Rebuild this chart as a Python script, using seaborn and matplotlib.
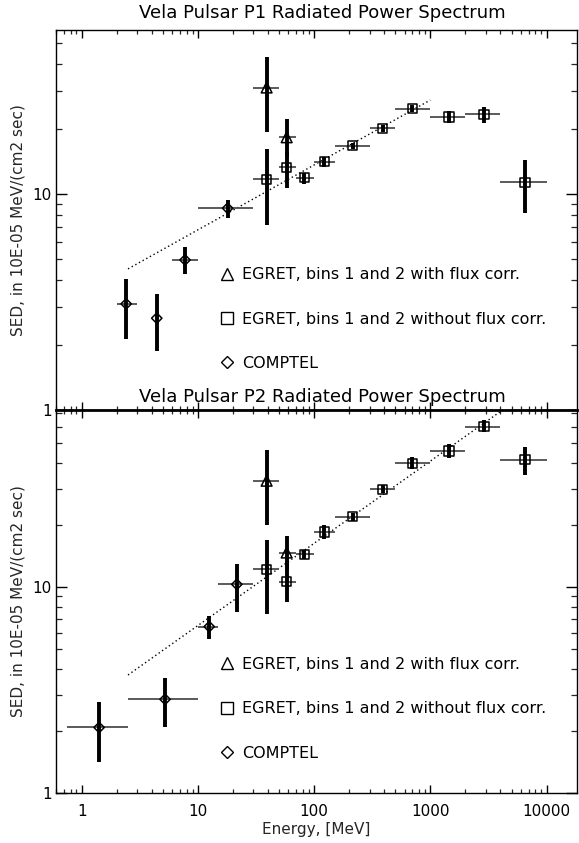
import numpy as np
import pandas as pd
import matplotlib
matplotlib.use("Agg")
import matplotlib.pyplot as plt
import seaborn as sns
from matplotlib.lines import Line2D
from matplotlib.ticker import LogLocator, FuncFormatter, NullFormatter

# ---------------- data: P1 ----------------
p1_tri_E = [39.0, 58.0]
p1_tri_Elo = [30.0, 50.0]
p1_tri_Ehi = [50.0, 70.0]
p1_tri_S = [31.1, 18.3]
p1_tri_Slo = [19.4, 14.9]
p1_tri_Shi = [43.0, 22.2]

p1_sq_E = [39.0, 58.0, 82.0, 122.0, 215.0, 389.0, 700.0, 1450.0, 2900.0, 6530.0]
p1_sq_Elo = [30.0, 50.0, 70.0, 100.0, 150.0, 300.0, 500.0, 1000.0, 2000.0, 4000.0]
p1_sq_Ehi = [50.0, 70.0, 100.0, 150.0, 300.0, 500.0, 1000.0, 2000.0, 4000.0, 10000.0]
p1_sq_S = [11.7, 13.3, 11.9, 14.1, 16.7, 20.1, 24.8, 22.7, 23.4, 11.3]
p1_sq_Slo = [7.2, 10.6, 11.1, 13.3, 16.2, 19.4, 23.9, 21.3, 21.4, 8.2]
p1_sq_Shi = [16.1, 15.7, 12.5, 14.9, 17.2, 20.9, 25.8, 24.2, 25.2, 14.4]

p1_di_E = [2.41, 4.42, 7.74, 18.0]
p1_di_Elo = [2.0, 4.25, 6.0, 10.0]
p1_di_Ehi = [3.0, 4.6, 10.0, 30.0]
p1_di_S = [3.1, 2.66, 4.95, 8.59]
p1_di_Slo = [2.13, 1.88, 4.25, 7.7]
p1_di_Shi = [4.03, 3.43, 5.66, 9.38]

p1_fit_E = [2.5, 1000.0]
p1_fit_S = [4.5, 27.2]

# ---------------- data: P2 ----------------
p2_tri_E = [39.0, 58.0]
p2_tri_Elo = [30.0, 50.0]
p2_tri_Ehi = [50.0, 70.0]
p2_tri_S = [32.8, 14.7]
p2_tri_Slo = [20.0, 12.1]
p2_tri_Shi = [46.2, 17.7]

p2_sq_E = [39.0, 58.0, 82.0, 122.0, 215.0, 389.0, 700.0, 1450.0, 2900.0, 6530.0]
p2_sq_Elo = [30.0, 50.0, 70.0, 100.0, 150.0, 300.0, 500.0, 1000.0, 2000.0, 4000.0]
p2_sq_Ehi = [50.0, 70.0, 100.0, 150.0, 300.0, 500.0, 1000.0, 2000.0, 4000.0, 10000.0]
p2_sq_S = [12.2, 10.6, 14.4, 18.5, 21.9, 29.8, 39.9, 45.7, 60.0, 41.4]
p2_sq_Slo = [7.4, 8.5, 13.7, 17.1, 21.0, 28.5, 37.3, 42.2, 56.4, 35.0]
p2_sq_Shi = [16.9, 13.3, 15.2, 20.0, 22.8, 31.2, 42.6, 49.3, 64.3, 48.0]

p2_di_E = [1.41, 5.21, 12.5, 21.6]
p2_di_Elo = [0.75, 2.5, 10.0, 15.0]
p2_di_Ehi = [2.5, 10.0, 15.0, 30.0]
p2_di_S = [2.08, 2.85, 6.42, 10.3]
p2_di_Slo = [1.42, 2.08, 5.57, 7.6]
p2_di_Shi = [2.76, 3.6, 7.26, 13.0]

p2_fit_E = [2.5, 4000.0]
p2_fit_S = [3.74, 71.0]

legend_labels = ["EGRET, bins 1 and 2 with flux corr.",
                 "EGRET, bins 1 and 2 without flux corr.",
                 "COMPTEL"]
titles = ["Vela Pulsar P1 Radiated Power Spectrum",
          "Vela Pulsar P2 Radiated Power Spectrum"]
ylabel = "SED, in 10E-05 MeV/(cm2 sec)"
xlabel = "Energy, [MeV]"

sns.set_theme(style="ticks")
plt.rcParams['font.family'] = ['DejaVu Sans']
plt.rcParams['text.color'] = 'black'

W, H = 579, 843
fig = plt.figure(figsize=(W / 100, H / 100), dpi=100)

ax1 = fig.add_axes([56 / W, 1 - 410 / H, 521 / W, 380 / H])
ax2 = fig.add_axes([56 / W, 1 - 793 / H, 521 / W, 383 / H])

FS_TICK = 11
FS_LEG = 11.5
FS_LAB = 11
FS_TITLE = 13


def series(ax, E, Elo, Ehi, S, Slo, Shi, marker, ms):
    E = np.array(E); S = np.array(S)
    xerr = [E - np.array(Elo), np.array(Ehi) - E]
    yerr = [S - np.array(Slo), np.array(Shi) - S]
    ax.errorbar(E, S, xerr=xerr, fmt='none', ecolor='#5a5a5a', elinewidth=1.4,
                capsize=0, zorder=2)
    ax.errorbar(E, S, yerr=yerr, fmt='none', ecolor='black', elinewidth=2.8,
                capsize=0, zorder=3)
    df = pd.DataFrame({"E": E, "S": S})
    sns.scatterplot(data=df, x="E", y="S", ax=ax, marker=marker, s=ms,
                    facecolor='none', edgecolor='black', linewidth=1.1, zorder=4)


def panel(ax, tri, sq, di, fit, ymax, leg_y):
    series(ax, *tri, marker='^', ms=60)
    series(ax, *sq, marker='s', ms=44)
    series(ax, *di, marker='D', ms=28)
    fdf = pd.DataFrame({"E": fit[0], "S": fit[1]})
    sns.lineplot(data=fdf, x="E", y="S", ax=ax, color='black', lw=1.0,
                 linestyle=(0, (1, 2)), zorder=1)
    ax.set_xscale('log')
    ax.set_yscale('log')
    ax.set_xlim(0.6, 18300)
    ax.set_ylim(1, ymax)
    ax.set_xlabel('')
    for s in ax.spines.values():
        s.set_visible(True)
        s.set_linewidth(1.0)
        s.set_color('black')
    ax.xaxis.set_major_locator(LogLocator(base=10, numticks=10))
    ax.xaxis.set_minor_locator(LogLocator(base=10, subs=np.arange(2, 10), numticks=20))
    ax.yaxis.set_major_locator(LogLocator(base=10, numticks=10))
    ax.yaxis.set_minor_locator(LogLocator(base=10, subs=np.arange(2, 10), numticks=20))
    fmt = FuncFormatter(lambda v, p: f"{int(round(v))}")
    ax.xaxis.set_major_formatter(fmt)
    ax.yaxis.set_major_formatter(fmt)
    ax.xaxis.set_minor_formatter(NullFormatter())
    ax.yaxis.set_minor_formatter(NullFormatter())
    ax.tick_params(axis='x', which='major', direction='in', length=5.5, width=1.0,
                   top=True, bottom=True, labelsize=FS_TICK, pad=8, colors='black')
    ax.tick_params(axis='x', which='minor', direction='in', length=2.7, width=0.9,
                   top=True, bottom=True)
    ax.tick_params(axis='y', which='major', direction='in', length=7.7, width=1.0,
                   left=True, right=True, labelsize=FS_TICK, pad=3, colors='black')
    ax.tick_params(axis='y', which='minor', direction='in', length=4.3, width=0.9,
                   left=True, right=True)
    handles = [Line2D([], [], marker=m, ls='none', mfc='none', mec='black',
                      mew=1.0, ms=msz) for m, msz in [('^', 8.5), ('s', 8), ('D', 6.5)]]
    ax.legend(handles, legend_labels, frameon=False, fontsize=FS_LEG,
              handlelength=1.0, handletextpad=0.44, labelspacing=1.84,
              borderpad=0, borderaxespad=0, loc='upper left',
              bbox_to_anchor=(0.313, leg_y))
    ax.set_ylabel(ylabel, fontsize=FS_LAB)
    ax.yaxis.set_label_coords(-0.0576, 0.5)


panel(ax1, (p1_tri_E, p1_tri_Elo, p1_tri_Ehi, p1_tri_S, p1_tri_Slo, p1_tri_Shi),
      (p1_sq_E, p1_sq_Elo, p1_sq_Ehi, p1_sq_S, p1_sq_Slo, p1_sq_Shi),
      (p1_di_E, p1_di_Elo, p1_di_Ehi, p1_di_S, p1_di_Slo, p1_di_Shi),
      (p1_fit_E, p1_fit_S), 57.4, 0.376)
panel(ax2, (p2_tri_E, p2_tri_Elo, p2_tri_Ehi, p2_tri_S, p2_tri_Slo, p2_tri_Shi),
      (p2_sq_E, p2_sq_Elo, p2_sq_Ehi, p2_sq_S, p2_sq_Slo, p2_sq_Shi),
      (p2_di_E, p2_di_Elo, p2_di_Ehi, p2_di_S, p2_di_Slo, p2_di_Shi),
      (p2_fit_E, p2_fit_S), 72.3, 0.355)

ax1.tick_params(axis='x', labelbottom=False)
ax2.spines['top'].set_linewidth(2.0)
ax2.set_xlabel(xlabel, fontsize=FS_LAB, labelpad=2)

fig.text(322 / W, 1 - 13 / H, titles[0], ha='center', va='center', fontsize=FS_TITLE)
fig.text(322 / W, 1 - 397 / H, titles[1], ha='center', va='center', fontsize=FS_TITLE)

fig.savefig("out.png", dpi=100)
